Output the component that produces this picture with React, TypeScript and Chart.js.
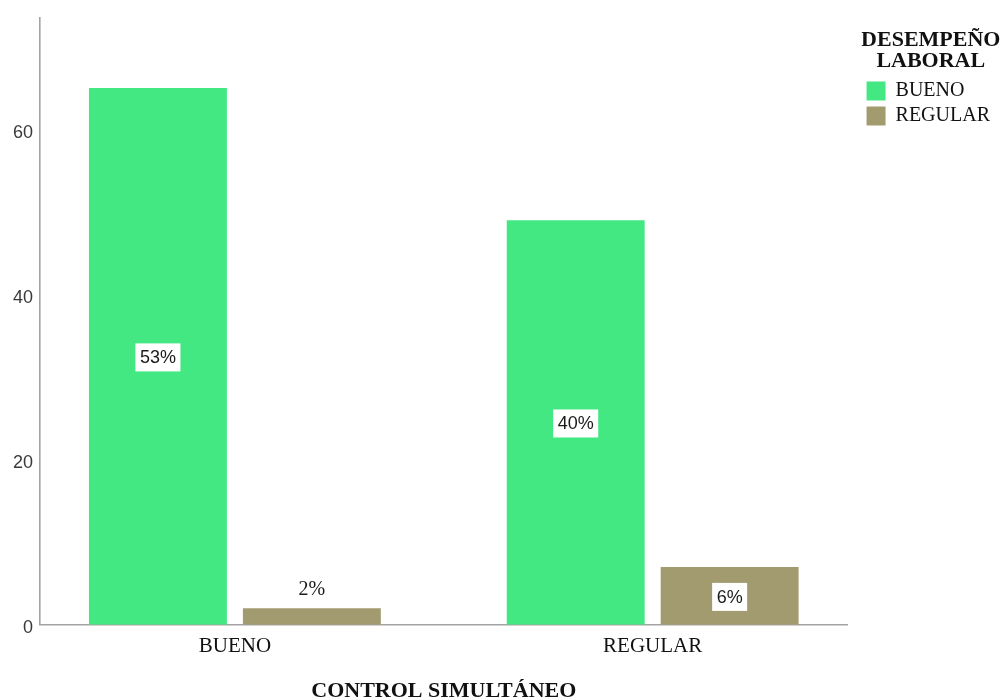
import React, { useEffect, useRef } from "react";
import { Chart, registerables } from "chart.js";

Chart.register(...registerables);

const categories = ["BUENO", "REGULAR"];
const seriesNames = ["BUENO", "REGULAR"];
const buenoValues = [65, 49];
const regularValues = [2, 7];
const yTicks = [0, 20, 40, 60];
const yMax = 73.5;
const xTitle = "CONTROL SIMULTÁNEO";
const legendTitle = ["DESEMPEÑO", "LABORAL"];
const seriesColors = ["#44E882", "#A39B70"];

const SERIF = "'Liberation Serif', 'Times New Roman', serif";
const SANS = "'Liberation Sans', Arial, sans-serif";

const toPoints = (vals: number[]) => vals.map((v, i) => ({ x: i, y: v }));

// leave a gap between the plot area and the legend
const legendGapPlugin = {
  id: "legendGap",
  afterLayout(chart: any) {
    const lg = chart.legend;
    if (lg) {
      lg.left += 14;
      lg.right += 14;
    }
  },
};

const dataLabelsPlugin = {
  id: "pctLabels",
  afterDatasetsDraw(chart: any) {
    const { ctx } = chart;
    let total = 0;
    chart.data.datasets.forEach((ds: any) => ds.data.forEach((p: any) => (total += p.y)));
    ctx.save();
    chart.data.datasets.forEach((ds: any, di: number) => {
      const meta = chart.getDatasetMeta(di);
      meta.data.forEach((bar: any, i: number) => {
        const v = ds.data[i].y;
        const txt = Math.round((v / total) * 100) + "%";
        const { x, y, base } = bar.getProps(["x", "y", "base"], true);
        const h = base - y;
        ctx.textAlign = "center";
        ctx.textBaseline = "middle";
        if (h > 30) {
          ctx.font = `18px ${SANS}`;
          const w = ctx.measureText(txt).width + 9;
          const mid = (y + base) / 2;
          ctx.fillStyle = "#ffffff";
          ctx.fillRect(x - w / 2, mid - 13, w, 28);
          ctx.fillStyle = "#1a1a1a";
          ctx.fillText(txt, x, mid + 2);
        } else {
          ctx.font = `20px ${SERIF}`;
          ctx.fillStyle = "#1a1a1a";
          ctx.fillText(txt, x, y - 19);
        }
      });
    });
    ctx.restore();
  },
};

export default function App() {
  const canvasRef = useRef<HTMLCanvasElement | null>(null);

  useEffect(() => {
    if (!canvasRef.current) return;
    const chart = new Chart(canvasRef.current, {
      type: "bar",
      data: {
        datasets: [
          {
            label: seriesNames[0],
            data: toPoints(buenoValues),
            backgroundColor: seriesColors[0],
            borderWidth: 0,
            categoryPercentage: 0.737,
            barPercentage: 0.896,
          },
          {
            label: seriesNames[1],
            data: toPoints(regularValues),
            backgroundColor: seriesColors[1],
            borderWidth: 0,
            categoryPercentage: 0.737,
            barPercentage: 0.896,
          },
        ],
      },
      options: {
        responsive: false,
        animation: false,
        events: [],
        layout: { padding: { top: 16, right: 16, left: 0, bottom: 0 } },
        plugins: {
          tooltip: { enabled: false },
          legend: {
            position: "right",
            align: "start",
            labels: {
              boxWidth: 19,
              boxHeight: 19,
              padding: 5,
              color: "#111",
              font: { family: SERIF, size: 20 },
            },
            title: {
              display: true,
              text: legendTitle as any,
              color: "#111",
              font: { family: SERIF, size: 22, weight: "bold", lineHeight: "21px" as any },
              padding: { top: 13.5, bottom: 25.5 } as any,
            },
          },
        },
        scales: {
          x: {
            type: "linear",
            offset: false,
            min: -0.4665,
            max: 1.4665,
            grid: { display: false, offset: false },
            border: { display: true, color: "#a3a3a3", width: 1.6 },
            afterBuildTicks(scale: any) {
              scale.ticks = categories.map((_, i) => ({ value: i }));
            },
            ticks: {
              color: "#111",
              padding: 1,
              font: { family: SERIF, size: 21 },
              callback: (v: any) => categories[v as number] ?? "",
            },
            title: {
              display: true,
              text: xTitle,
              color: "#111",
              font: { family: SERIF, size: 22, weight: "bold", lineHeight: 1 },
              padding: { top: 20.5, bottom: -4.5 },
            },
          },
          y: {
            min: 0,
            max: yMax,
            grid: { display: false, drawTicks: false },
            border: { display: true, color: "#a3a3a3", width: 1.6 },
            ticks: {
              color: "#3a3a3a",
              padding: 7,
              labelOffset: 3.5,
              font: { family: SANS, size: 18 },
            },
            afterBuildTicks(scale: any) {
              scale.ticks = yTicks.map((v) => ({ value: v }));
            },
            afterFit(scale: any) {
              scale.width = 40;
            },
          },
        },
      },
      plugins: [legendGapPlugin, dataLabelsPlugin],
    });
    return () => chart.destroy();
  }, []);

  return (
    <div style={{ position: "fixed", left: 0, top: 0, width: 1002, height: 698, background: "#fff" }}>
      <canvas ref={canvasRef} width={1002} height={698} style={{ display: "block" }} />
    </div>
  );
}
